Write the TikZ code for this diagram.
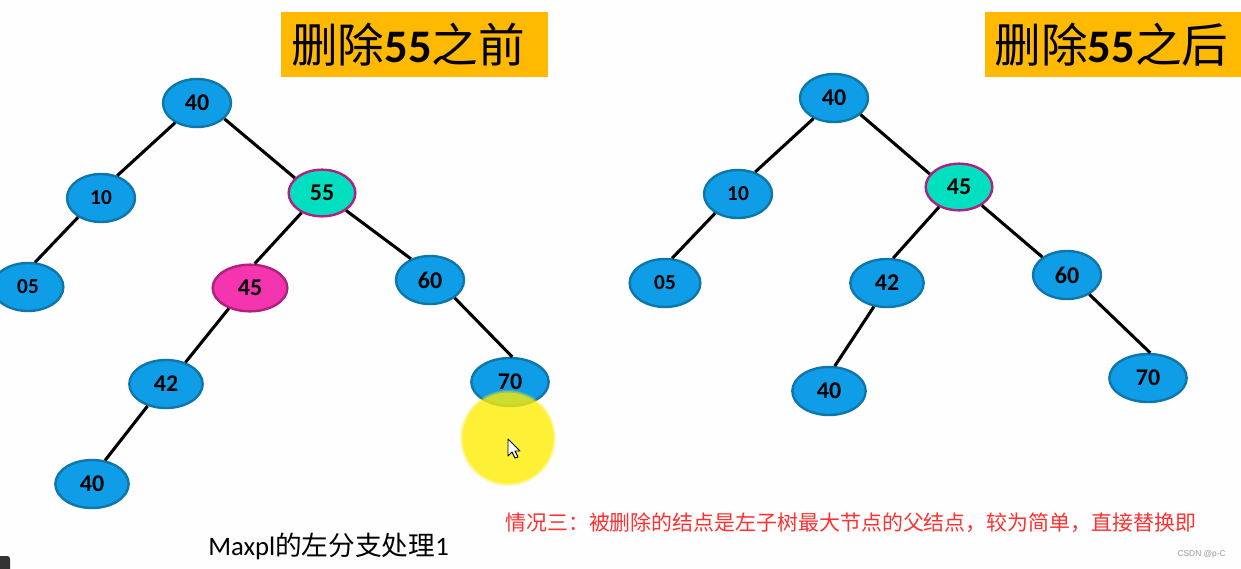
\documentclass[tikz,border=0pt]{standalone}
\usepackage{fontspec}
\setmainfont{Carlito}
\newfontfamily\cjk{Noto Sans CJK SC}
\usetikzlibrary{shapes.geometric}
\definecolor{nodeblue}{HTML}{0F9DE8}
\definecolor{nodeline}{HTML}{0E76A8}
\definecolor{teal}{HTML}{00DFC0}
\definecolor{pinkfill}{HTML}{F535B0}
\definecolor{pinkline}{HTML}{B0207E}
\definecolor{titlebg}{HTML}{FFB900}
\definecolor{redtext}{HTML}{FF3030}
\tikzset{
  x=0.75pt,y=-0.75pt,
  tree/.style={ellipse,draw=nodeline,line width=1.8pt,fill=nodeblue,inner sep=0pt,
    font=\fontsize{18}{18}\selectfont\bfseries,text=black,minimum width=51pt,minimum height=36pt},
  wide/.style={minimum width=55pt},
  small/.style={minimum width=53pt},
  hit/.style={fill=teal,draw=pinkline,minimum width=50pt,minimum height=35pt},
  sub/.style={fill=pinkfill,draw=pinkline,minimum width=56pt,minimum height=35pt},
  edge/.style={draw=black,line width=2.3pt},
  titlebox/.style={fill=titlebg,inner sep=0pt,minimum height=48.75pt},
  titletext/.style={inner sep=0pt,text=black,font=\fontsize{35}{35}\selectfont\cjk},
}
\begin{document}
\begin{tikzpicture}
\useasboundingbox[fill=white!99.5!black] (0,0) rectangle (1241,568);
% titles
\node[titlebox,minimum width=200.25pt] (t1) at (414.5,44.5) {};
\node[titletext] (t1t) at (408,45) {删除{\fontspec{Carlito}\bfseries 55}之前};
\node[titlebox,minimum width=192pt] (t2) at (1113,44.5) {};
\node[titletext] (t2t) at (1111.5,45) {删除{\fontspec{Carlito}\bfseries 55}之后};
% left tree
\node[tree] (a40) at (197,103) {40};
\node[tree] (a10) at (101,198) {\fontsize{16}{16}\selectfont 10};
\node[tree,hit] (a55) at (322,193) {55};
\node[tree,small] (a05) at (28,287) {\fontsize{16}{16}\selectfont 05};
\node[tree,sub] (a45) at (250,288) {45};
\node[tree] (a60) at (430,280) {60};
\node[tree,wide] (a42) at (166,384) {42};
\node[tree,wide,minimum width=58pt] (a70) at (510,382) {70};
\node[tree,wide] (a40b) at (92,484) {40};
\draw[edge] (a40.-30) -- (a55.151);
\draw[edge] (a40.-138) -- (a10.54);
\draw[edge] (a10.-140) -- (a05.74);
\draw[edge] (a55.-136) -- (a45.79);
\draw[edge] (a55.-36) -- (a60.132);
\draw[edge] (a45.-136) -- (a42.48);
\draw[edge] (a60.-36) -- (a70.85);
\draw[edge] (a42.-130) -- (a40b.61);
% right tree
\node[tree] (b40) at (834,98) {40};
\node[tree] (b10) at (738,194) {\fontsize{16}{16}\selectfont 10};
\node[tree,hit] (b45) at (959,187) {45};
\node[tree,small] (b05) at (665,283) {\fontsize{16}{16}\selectfont 05};
\node[tree,wide] (b42) at (887,283) {42};
\node[tree] (b60) at (1067,275) {60};
\node[tree,wide,minimum width=58pt] (b70) at (1148,378) {70};
\node[tree,wide] (b40b) at (829,391) {40};
\draw[edge] (b40.-32) -- (b45.156);
\draw[edge] (b40.-135) -- (b10.52);
\draw[edge] (b10.-140) -- (b05.74);
\draw[edge] (b45.-135) -- (b42.76);
\draw[edge] (b45.-39) -- (b60.144);
\draw[edge] (b42.-119) -- (b40b.77);
\draw[edge] (b60.-41) -- (b70.85);
% highlight and pointer
\fill[yellow!95!orange,opacity=.2] (508,438) circle[radius=48];
\fill[yellow!95!orange,opacity=.35] (508,438) circle[radius=47];
\fill[yellow!95!orange,opacity=.6] (508,438) circle[radius=45.5];
\draw[black,fill=white,line width=.7pt,line join=round] (508,439) -- (508,456) -- (512,452) -- (515,458) -- (518,457) -- (515,451) -- (520,451) -- cycle;
% captions
\node[inner sep=0pt,text=black,anchor=west] (cap) at (208,546) {\fontsize{20}{20}\selectfont Maxpl{\cjk 的左分支处理}1};
\node[inner sep=0pt,text=redtext,anchor=west] (red) at (505,522.5) {\fontsize{15.7}{15.7}\selectfont\cjk 情况三：被删除的结点是左子树最大节点的父结点，较为简单，直接替换即};
\node[inner sep=0pt,text=black!40,anchor=east] (csdn) at (1226,554) {\fontsize{6.3}{6.3}\selectfont\fontspec{Liberation Sans} CSDN @p-C};
\fill[black!80,rounded corners=2pt] (-4,556) rectangle (10,572);
\end{tikzpicture}
\end{document}
